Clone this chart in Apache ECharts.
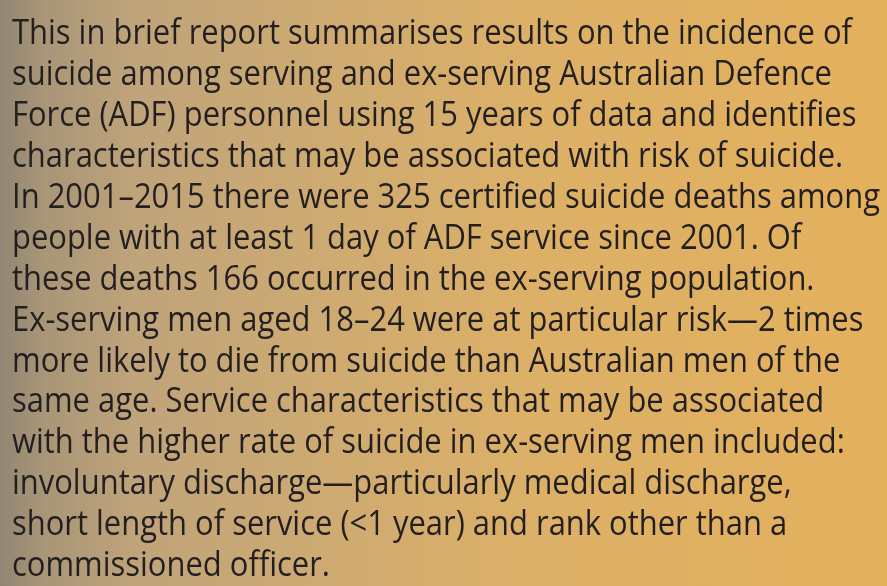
<!DOCTYPE html>
<html>
<head>
<meta charset="utf-8">
<script src="https://cdn.jsdelivr.net/npm/echarts@6/dist/echarts.min.js"></script>
<style>
  html, body { margin: 0; padding: 0; }
  #main { width: 887px; height: 586px; }
</style>
</head>
<body>
<div id="main"></div>
<script>
// text lines of the summary panel
var lines = [
  "This in brief report summarises results on the incidence of",
  "suicide among serving and ex-serving Australian Defence",
  "Force (ADF) personnel using 15 years of data and identifies",
  "characteristics that may be associated with risk of suicide.",
  "In 2001\u20132015 there were 325 certified suicide deaths among",
  "people with at least 1 day of ADF service since 2001. Of",
  "these deaths 166 occurred in the ex-serving population.",
  "Ex-serving men aged 18\u201324 were at particular risk\u20142 times",
  "more likely to die from suicide than Australian men of the",
  "same age. Service characteristics that may be associated",
  "with the higher rate of suicide in ex-serving men included:",
  "involuntary discharge\u2014particularly medical discharge,",
  "short length of service (<1 year) and rank other than a",
  "commissioned officer."
];

var fontFamily = "'Open Sans', sans-serif";
var fontSize = 35;
var lineGap = 40.9;
var firstBaseline = 41.7;
var longestWidth = 868;

// measure to squeeze the text horizontally like the narrower original face
var cv = document.createElement("canvas").getContext("2d");
cv.font = fontSize + "px " + fontFamily;
var maxW = 0;
lines.forEach(function (l) {
  maxW = Math.max(maxW, cv.measureText(l).width);
});
var sx = longestWidth / maxW;

var chart = echarts.init(document.getElementById("main"));

var elements = [
  {
    type: "rect",
    shape: { x: 0, y: 0, width: 887, height: 586 },
    style: {
      fill: new echarts.graphic.LinearGradient(0, 0, 1, 0, [
        { offset: 0, color: "#928572" },
        { offset: 0.05, color: "#a89677" },
        { offset: 0.15, color: "#bfa37a" },
        { offset: 0.35, color: "#cdaa72" },
        { offset: 0.6, color: "#dcb067" },
        { offset: 1, color: "#e4b15d" }
      ])
    },
    silent: true
  }
];

lines.forEach(function (l, i) {
  elements.push({
    type: "text",
    x: 12,
    y: firstBaseline + i * lineGap + fontSize * 0.29,
    scaleX: sx,
    style: {
      text: l,
      fill: "#231f20",
      font: fontSize + "px " + fontFamily,
      verticalAlign: "bottom",
      align: "left"
    }
  });
});

chart.setOption({
  animation: false,
  graphic: { elements: elements }
});
</script>
</body>
</html>
